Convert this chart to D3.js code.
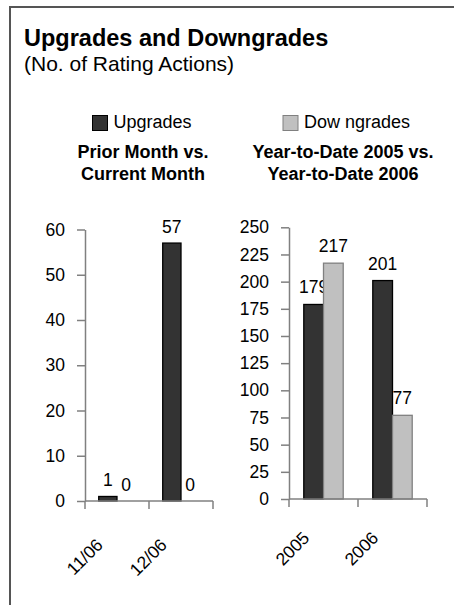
<!DOCTYPE html>
<html>
<head>
<meta charset="utf-8">
<script src="https://cdn.jsdelivr.net/npm/d3@7"></script>
<style>
  body { margin: 0; background: #fff; }
  svg { display: block; font-family: "Liberation Sans", Arial, sans-serif; }
</style>
</head>
<body>
<div id="chart"></div>
<script>
// data
const series = ["Upgrades", "Downgrades"];
const legendLabels = ["Upgrades", "Dow ngrades"];
const months = ["11/06", "12/06"];
const monthUpgrades = [1, 57];
const monthDowngrades = [0, 0];
const monthTicks = [0, 10, 20, 30, 40, 50, 60];
const years = ["2005", "2006"];
const yearUpgrades = [179, 201];
const yearDowngrades = [217, 77];
const yearTicks = [0, 25, 50, 75, 100, 125, 150, 175, 200, 225, 250];

const colors = { Upgrades: "#333333", Downgrades: "#c0c0c0" };
const strokes = { Upgrades: "#000000", Downgrades: "#808080" };

const W = 454, H = 605;
const svg = d3.select("#chart").append("svg").attr("width", W).attr("height", H);

//frame: only top and left edges are visible
svg.append("line").attr("x1", 9).attr("x2", W).attr("y1", 7).attr("y2", 7)
  .attr("stroke", "#555").attr("stroke-width", 2);
svg.append("line").attr("x1", 10).attr("x2", 10).attr("y1", 6).attr("y2", H)
  .attr("stroke", "#555").attr("stroke-width", 2);

//titles
svg.append("text").attr("x", 24).attr("y", 45.5)
  .attr("font-size", 23.5).attr("font-weight", "bold").text("Upgrades and Downgrades");
svg.append("text").attr("x", 24).attr("y", 71)
  .attr("font-size", 21).text("(No. of Rating Actions)");

//legend
const legendX = [92.5, 283];
series.forEach((s, i) => {
  svg.append("rect").attr("x", legendX[i]).attr("y", 115.5).attr("width", 15).attr("height", 15)
    .attr("fill", colors[s]).attr("stroke", strokes[s]).attr("stroke-width", 1);
  svg.append("text").attr("x", legendX[i] + 21).attr("y", 127.5)
    .attr("font-size", 18).text(legendLabels[i]);
});

function drawPanel(cfg) {
  const g = svg.append("g");
  const y = d3.scaleLinear().domain([0, d3.max(cfg.ticks)]).range(cfg.yRange);
  const x = d3.scaleBand().domain(cfg.cats).range(cfg.xRange).padding(0);
  const x1 = d3.scaleBand().domain(series).range([0, x.bandwidth()]).paddingOuter(0.75).paddingInner(0);

  //panel heading
  cfg.heading.forEach((line, i) => {
    g.append("text").attr("x", cfg.headX).attr("y", 158 + i * 22)
      .attr("text-anchor", "middle").attr("font-size", 18).attr("font-weight", "bold").text(line);
  });

  //y axis
  const yAxis = g.append("g")
    .attr("transform", `translate(${cfg.xRange[0]},0)`)
    .call(d3.axisLeft(y).tickValues(cfg.ticks).tickSize(8).tickSizeOuter(0).tickPadding(12));
  yAxis.select(".domain").attr("stroke", "#808080").attr("stroke-width", 1.5);
  yAxis.selectAll(".tick line").attr("stroke", "#808080").attr("stroke-width", 1.5);
  yAxis.selectAll(".tick text").attr("font-size", 17.5).attr("fill", "#000")
    .attr("font-family", "Liberation Sans, Arial, sans-serif");

  //bars
  const rows = cfg.cats.map((c, i) => ({ cat: c, values: [cfg.up[i], cfg.down[i]] }));
  const groups = g.selectAll(".cat").data(rows).join("g")
    .attr("transform", (d) => `translate(${x(d.cat)},0)`);
  const cells = groups.selectAll(".cell")
    .data((d) => d.values.map((v, j) => ({ s: series[j], v })))
    .join("g");
  cells.filter((d) => d.v > 0).append("rect")
    .attr("x", (d) => x1(d.s))
    .attr("y", (d) => y(d.v))
    .attr("width", x1.bandwidth())
    .attr("height", (d) => y(0) - y(d.v))
    .attr("fill", (d) => colors[d.s])
    .attr("stroke", (d) => strokes[d.s])
    .attr("stroke-width", 1.3);
  cells.append("text")
    .attr("x", (d) => x1(d.s) + x1.bandwidth() / 2)
    .attr("y", (d) => y(d.v) - cfg.labelGap)
    .attr("text-anchor", "middle").attr("font-size", 17.5)
    .text((d) => d.v);

  //x axis line + boundary ticks
  g.append("line").attr("x1", cfg.xRange[0]).attr("x2", cfg.xRange[1])
    .attr("y1", y(0)).attr("y2", y(0)).attr("stroke", "#808080").attr("stroke-width", 1.5);
  const edges = cfg.cats.map((c) => x(c)).concat([cfg.xRange[1]]);
  g.selectAll(".edge").data(edges).join("line")
    .attr("x1", (d) => d).attr("x2", (d) => d)
    .attr("y1", y(0)).attr("y2", y(0) + 8)
    .attr("stroke", "#808080").attr("stroke-width", 1.5);

  //rotated category labels
  g.selectAll(".xlab").data(cfg.cats).join("text")
    .attr("text-anchor", "end").attr("font-size", 17.5)
    .attr("transform", (d) => `translate(${x(d) + x.bandwidth() / 2 - 13},${y(0) + cfg.xLabDy}) rotate(-45)`)
    .text((d) => d);
}

drawPanel({
  cats: months, up: monthUpgrades, down: monthDowngrades, ticks: monthTicks,
  xRange: [85, 213], yRange: [501, 229.5],
  heading: ["Prior Month vs.", "Current Month"], headX: 143,
  labelGap: 10, xLabDy: 45
});

drawPanel({
  cats: years, up: yearUpgrades, down: yearDowngrades, ticks: yearTicks,
  xRange: [289, 427], yRange: [499, 227.3],
  heading: ["Year-to-Date 2005 vs.", "Year-to-Date 2006"], headX: 343,
  labelGap: 11, xLabDy: 40
});
</script>
</body>
</html>
